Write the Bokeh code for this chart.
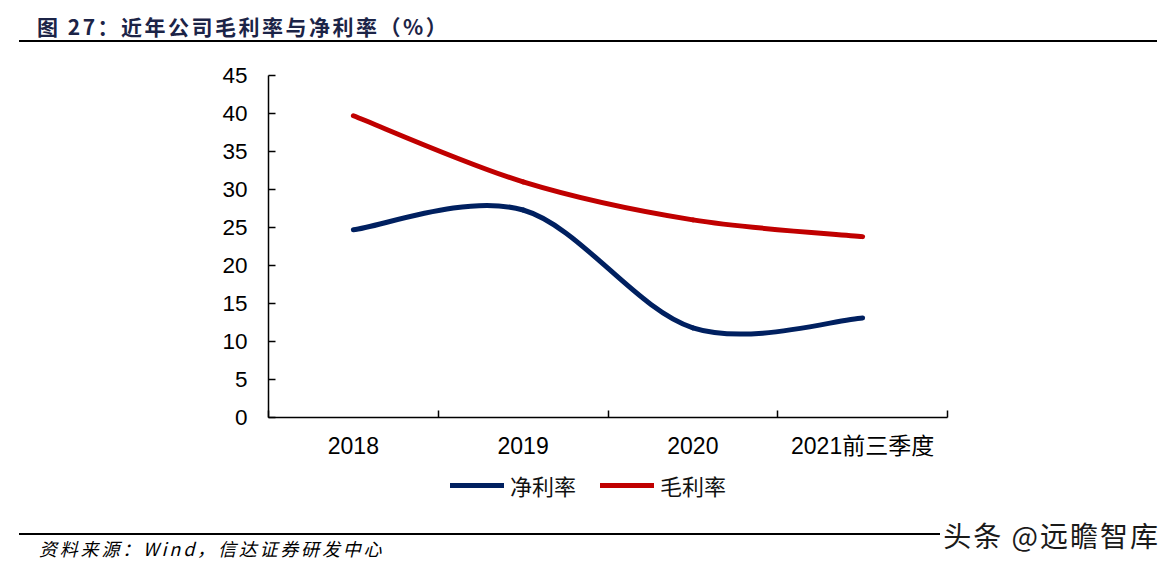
from bokeh.plotting import figure
from bokeh.models import Range1d, FixedTicker, Legend, LegendItem, Div
from bokeh.layouts import column
from bokeh.embed import file_html
from bokeh.resources import INLINE

categories = ["2018", "2019", "2020", "2021前三季度"]
net_margin = [24.7, 27.3, 11.8, 13.1]     # 净利率
gross_margin = [39.7, 31.0, 26.0, 23.8]   # 毛利率
y_ticks = [0, 5, 10, 15, 20, 25, 30, 35, 40, 45]
series_names = ["净利率", "毛利率"]

title_text = "图 27：近年公司毛利率与净利率（%）"
source_text = "资料来源：Wind，信达证券研发中心"
watermark_text = "头条 @远瞻智库"

NAVY = "#002060"
RED = "#C00000"
CJK = "Noto Sans CJK SC"
LAT = "Liberation Sans, Noto Sans CJK SC"

W = 1160
FIG_H = 419
p = figure(width=W, height=FIG_H, output_backend="svg", toolbar_location=None,
           x_range=Range1d(0, len(categories)), y_range=Range1d(0, 45),
           min_border_left=268, min_border_right=213, min_border_top=32, min_border_bottom=45)
p.outline_line_color = None
p.xgrid.visible = False
p.ygrid.visible = False
p.margin = 0

xs = [i + 0.5 for i in range(len(categories))]


def smooth_segments(x, y):
    """Excel-style smoothing: Catmull-Rom converted to cubic Bezier segments."""
    n = len(x)
    out = {k: [] for k in ("x0", "y0", "x1", "y1", "cx0", "cy0", "cx1", "cy1")}
    for i in range(n - 1):
        pm = i - 1 if i > 0 else i
        pp = i + 2 if i + 2 < n else i + 1
        out["x0"].append(x[i]); out["y0"].append(y[i])
        out["x1"].append(x[i + 1]); out["y1"].append(y[i + 1])
        out["cx0"].append(x[i] + (x[i + 1] - x[pm]) / 6.0)
        out["cy0"].append(y[i] + (y[i + 1] - y[pm]) / 6.0)
        out["cx1"].append(x[i + 1] - (x[pp] - x[i]) / 6.0)
        out["cy1"].append(y[i + 1] - (y[pp] - y[i]) / 6.0)
    return out


for series, color in ((net_margin, NAVY), (gross_margin, RED)):
    seg = smooth_segments(xs, series)
    p.bezier(line_color=color, line_width=5, line_cap="round", **seg)

# x axis: boundary ticks, category labels centered
xa = p.xaxis[0]
xa.ticker = FixedTicker(ticks=xs, minor_ticks=list(range(len(categories) + 1)))
xa.major_label_overrides = {x: c for x, c in zip(xs, categories)}
xa.major_tick_line_color = None
xa.minor_tick_in = 7
xa.minor_tick_out = 0
xa.minor_tick_line_color = "black"
xa.minor_tick_line_width = 1.5
xa.axis_line_color = "black"
xa.axis_line_width = 1.5
xa.major_label_standoff = 9
xa.major_label_text_font = LAT
xa.major_label_text_font_size = "23px"
xa.major_label_text_color = "black"

ya = p.yaxis[0]
ya.ticker = FixedTicker(ticks=y_ticks)
ya.minor_tick_line_color = None
ya.major_tick_in = 7
ya.major_tick_out = 0
ya.major_tick_line_color = "black"
ya.major_tick_line_width = 1.5
ya.axis_line_color = "black"
ya.axis_line_width = 1.5
ya.major_label_standoff = 21
ya.major_label_text_font = LAT
ya.major_label_text_font_size = "22.5px"
ya.major_label_text_color = "black"

# legend strip (separate figure so the legend is not clipped by the main frame).
# Its frame is aligned with the main frame by the column layout.
LEG_H = 58
pl = figure(width=W, height=LEG_H, output_backend="svg", toolbar_location=None,
            x_axis_location=None, y_axis_location=None, min_border=0,
            x_range=Range1d(0, len(categories)), y_range=Range1d(0, 1))
pl.outline_line_color = None
pl.xgrid.visible = False
pl.ygrid.visible = False
pl.margin = 0
# proxy renderers carry the series data but fall outside this strip's y range
r_net = pl.line(x=xs, y=net_margin, line_color=NAVY, line_width=5, line_cap="round")
r_gross = pl.line(x=xs, y=gross_margin, line_color=RED, line_width=5, line_cap="round")
legend = Legend(items=[LegendItem(label=series_names[0], renderers=[r_net]),
                       LegendItem(label=series_names[1], renderers=[r_gross])],
                orientation="horizontal", location=(182, 19),
                glyph_width=54, glyph_height=24, label_height=24,
                label_standoff=6, spacing=24, padding=0, margin=0,
                border_line_color=None, background_fill_alpha=0,
                label_text_font=CJK, label_text_font_size="22px", label_text_color="#111111")
pl.add_layout(legend, "center")

title_div = Div(width=W, height=43, margin=0, text=(
    '<div style="position:relative;width:%dpx;height:43px;">'
    '<div style="position:absolute;left:37px;top:14px;font-family:\'Noto Sans CJK SC\';'
    'font-weight:bold;font-size:21px;line-height:24px;letter-spacing:2.5px;color:#1c2447;'
    'white-space:nowrap;">%s</div>'
    '<div style="position:absolute;left:19px;top:40px;width:1138px;height:2px;background:#000;"></div>'
    '</div>') % (W, title_text))

footer_div = Div(width=W, height=48, margin=0, text=(
    '<div style="position:relative;width:%dpx;height:48px;">'
    '<div style="position:absolute;left:19px;top:13px;width:1138px;height:2px;background:#000;"></div>'
    '<div style="position:absolute;left:39px;top:18px;font-family:\'Noto Sans CJK SC\';'
    'font-style:italic;font-size:18px;line-height:20px;letter-spacing:2.8px;color:#000;'
    'white-space:nowrap;">%s</div>'
    '<div style="position:absolute;right:0px;top:0px;font-family:\'Noto Sans CJK SC\';'
    'font-size:28px;line-height:30px;letter-spacing:2px;color:#1a1a1a;background:#fff;padding-left:3px;'
    'white-space:nowrap;">%s</div>'
    '</div>') % (W, source_text, watermark_text))

layout = column(title_div, p, pl, footer_div, spacing=0)
open("out.html", "w").write(file_html(layout, INLINE))
